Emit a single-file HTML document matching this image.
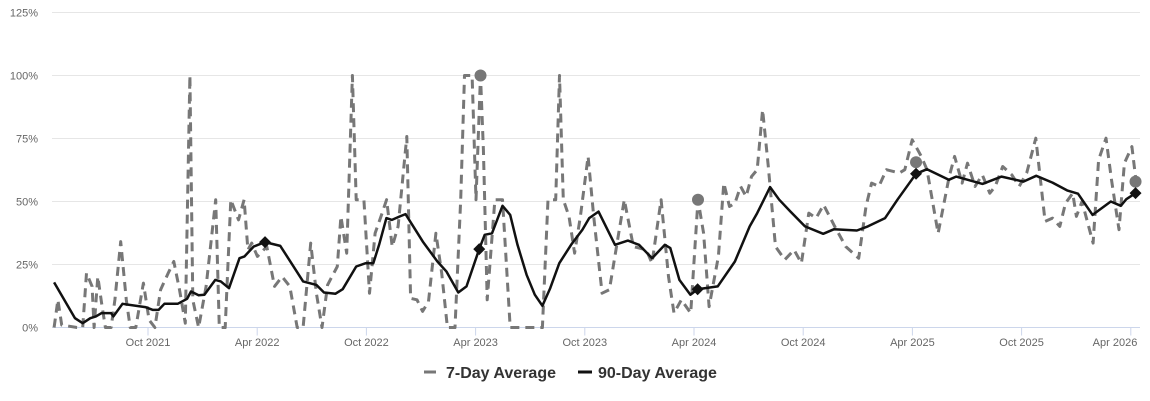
<!DOCTYPE html>
<html><head><meta charset="utf-8"><style>
html,body{margin:0;padding:0;background:#fff;}
svg{display:block;font-family:"Liberation Sans",sans-serif;}
</style></head><body>
<svg id="chart" width="1150" height="401" viewBox="0 0 1150 401"></svg>
<script>
// months since Jan 2021 (Oct 2021 = 9)
const yTicks = [0, 25, 50, 75, 100, 125];
const xTickMonths = [9, 15, 21, 27, 33, 39, 45, 51, 57, 63];
const xTickLabels = ["Oct 2021","Apr 2022","Oct 2022","Apr 2023","Oct 2023","Apr 2024","Oct 2024","Apr 2025","Oct 2025","Apr 2026"];
const avg7Months = [3.84,4.05,4.26,5.1,5.41,5.62,5.93,6.04,6.24,6.45,6.66,6.97,7.18,7.5,7.81,8.02,8.33,8.75,9.06,9.38,9.69,10.11,10.42,10.73,11.05,11.3,11.46,11.78,12.19,12.72,12.92,13.24,13.55,13.97,14.28,14.49,14.7,15.01,15.53,15.95,16.37,16.79,17.2,17.52,17.94,18.25,18.56,18.87,19.4,19.6,19.92,20.23,20.44,20.86,21.17,21.48,21.8,22.11,22.42,22.74,23.22,23.43,23.78,24.09,24.41,24.82,25.14,25.45,25.87,26.18,26.39,26.81,27.02,27.27,27.43,27.64,28.06,28.48,28.9,29.21,30.36,30.67,30.98,31.4,31.61,31.82,32.13,32.44,32.76,33.18,33.49,33.95,34.35,34.86,35.17,35.67,36.38,36.69,37.19,37.6,37.9,38.31,38.82,39.22,39.53,39.83,40.34,40.64,40.95,41.25,41.56,41.86,42.16,42.47,42.77,43.08,43.48,43.99,44.5,44.9,45.31,45.71,46.12,46.73,47.34,48.05,48.45,48.76,49.16,49.57,50.28,50.58,50.99,51.49,51.8,52.41,53.02,53.32,53.73,54.03,54.44,54.84,55.25,55.55,55.96,56.46,56.87,57.28,57.78,58.29,58.7,59.1,59.41,59.81,60.01,60.32,60.93,61.23,61.64,61.94,62.35,62.65,63.06,63.26];
const avg7Values = [0,11,1,0,0,21.6,16.3,0,20.2,9.7,0,0,11,34.1,11,0,0,17.6,3,0,15,21.6,26.2,15,1.7,100,11,0,16.3,50.7,0,0,50.7,42.7,50.7,30.8,33.5,28.2,32.1,16.3,20.2,16.3,0,0,33.5,13.6,0,16.9,24.2,44.1,29.5,100,50.7,50.7,13.6,37.4,44.1,50.7,32.1,40.1,75.8,11.6,11,6.4,10.3,37.4,21.6,0,0,50.7,100,100,50.7,100,70.5,11,50.7,50.7,0,0,0,0,50.7,50.7,100,50.7,44.1,29.5,44.1,67.9,44.1,13.6,15,37.4,50.7,32.1,30.8,25.5,50.7,20.2,5.7,11,5.7,50.7,37.4,8.3,28.2,57.3,48,49.3,56,52,59.9,62.6,86.4,63.9,32.1,26.9,30.8,25.5,45.4,43.4,48.7,40.1,32.1,27.5,48,57.3,56,62.6,61.3,62.6,74.5,67.9,62.6,37.4,59.9,67.9,57.3,65.2,56,60.6,53.3,56,63.9,60.6,56,61.3,75.1,42.1,43.4,40.1,49.3,53.3,44.1,50,33.5,66.5,75.1,58.6,38.8,65.2,71.8,59.9];
const avg90Months = [3.84,4.99,5.41,5.83,6.14,6.45,6.97,7.1,7.6,8.85,9.27,9.58,9.9,10.63,11.15,11.36,11.78,12.1,12.7,13.0,13.45,14.03,14.3,14.8,15.43,16.27,17.52,18.25,18.67,19.3,19.7,20.44,20.96,21.38,21.7,22.1,22.4,22.84,23.15,24.1,24.9,25.4,26.05,26.5,27.2,27.5,27.9,28.48,28.9,29.3,29.8,30.25,30.67,31.1,31.6,32.25,32.87,33.24,33.75,34.66,35.37,35.98,36.7,37.4,37.7,38.2,38.8,39.2,40.3,41.25,42.06,42.47,43.18,43.68,44.3,45.1,46.1,46.7,47.95,48.55,49.5,50.2,51.2,51.8,53.0,53.4,54.85,55.9,57.1,57.8,58.7,59.5,60.1,60.9,61.9,62.45,62.75,63.26];
const avg90Values = [17.9,3.7,1.7,3.7,4.4,5.7,5.7,4.4,9.4,8.1,7.0,7.0,9.4,9.4,11.4,14.3,12.8,13,18.9,18.3,15.6,27.5,28.2,32.1,33.9,32.4,18.3,16.9,13.9,13.4,15.2,24.2,25.5,25.5,32.8,43.4,42.7,44.1,45.0,34.1,26.2,22.2,13.9,16.3,31.1,36.8,37.4,48.3,44.7,32.8,20.9,13.0,8.6,15.6,25.5,32.8,38.8,43.4,46.0,32.8,34.5,32.8,27.5,32.8,31.5,18.9,13.0,15.2,16.3,26.2,40.1,45.4,55.7,50.7,46.0,40.1,37.2,39.0,38.5,40.1,43.4,50.9,61.0,62.8,58.6,59.9,57.0,59.9,57.9,60.2,57.5,54.4,53.1,44.7,50.0,48.3,50.9,53.3];
const circleMonths = [27.27, 39.22, 51.2, 63.26];
const circleValues = [100, 50.7, 65.6, 57.9];
const diamondMonths = [15.43, 27.2, 39.2, 51.2, 63.26];
const diamondValues = [33.9, 31.1, 15.2, 61.0, 53.3];

const NS = "http://www.w3.org/2000/svg";
const svg = document.getElementById("chart");
const X0 = 52, X1 = 1140, Y0 = 327.5, Y1 = 12.5;
function xs(m){ return 148 + (m - 9) * 18.2; }
function ys(v){ return Y0 - (v / 125) * (Y0 - Y1); }
function mk(tag, attrs){ const e = document.createElementNS(NS, tag); for (const k in attrs) e.setAttribute(k, attrs[k]); svg.appendChild(e); return e; }

yTicks.forEach((t) => {
  const y = ys(t);
  const g = mk("line", {x1: X0, x2: X1, y1: y, y2: y, stroke: t === 0 ? "#ccd6eb" : "#e6e6e6", "stroke-width": 1});
  
  
  const tx = mk("text", {x: 38, y: y + 4, "text-anchor": "end", "font-size": 11, fill: "#666"});
  tx.textContent = t + "%";
  
  
});
xTickMonths.forEach((m, i) => {
  const x = xs(m);
  const tk = mk("line", {x1: x, x2: x, y1: Y0, y2: Y0 + 8, stroke: "#ccd6eb", "stroke-width": 1});
  
  
  const tx = mk("text", {x: Math.min(x, 1115), y: 346, "text-anchor": "middle", "font-size": 11, fill: "#666"});
  tx.textContent = xTickLabels[i];
  
  
});

function pathFrom(ms, vs){ return ms.map((m, i) => (i ? "L" : "M") + xs(m).toFixed(1) + "," + ys(vs[i]).toFixed(1)).join(""); }
const p7 = mk("path", {d: pathFrom(avg7Months, avg7Values), fill: "none", stroke: "#777", "stroke-width": 3, "stroke-dasharray": "9,6", "stroke-linejoin": "round"});


const p90 = mk("path", {d: pathFrom(avg90Months, avg90Values), fill: "none", stroke: "#111", "stroke-width": 2.5, "stroke-linejoin": "round"});



circleMonths.forEach((m, i) => {
  const c = mk("circle", {cx: xs(m), cy: ys(circleValues[i]), r: 6, fill: "#777"});
  
  
});
diamondMonths.forEach((m, i) => {
  const x = xs(m), y = ys(diamondValues[i]);
  const d = mk("path", {d: `M${x},${y-6}L${x+6},${y}L${x},${y+6}L${x-6},${y}Z`, fill: "#111"});
  
  
});

const l1 = mk("line", {x1: 424, x2: 436, y1: 372, y2: 372, stroke: "#777", "stroke-width": 3});


const t1 = mk("text", {x: 446, y: 378, "font-size": 16, "font-weight": "bold", fill: "#333"});
t1.textContent = "7-Day Average";


const l2 = mk("line", {x1: 578, x2: 592, y1: 372, y2: 372, stroke: "#111", "stroke-width": 3});


const t2 = mk("text", {x: 598, y: 378, "font-size": 16, "font-weight": "bold", fill: "#333"});
t2.textContent = "90-Day Average";


</script>
</body></html>
